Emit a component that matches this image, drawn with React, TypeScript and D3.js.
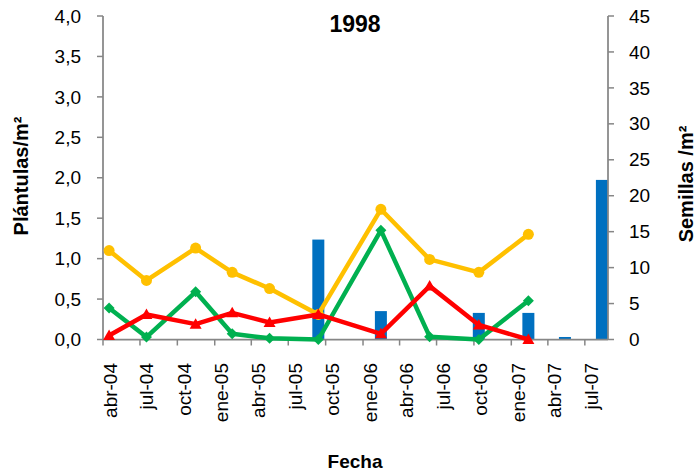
import React from "react";
import * as d3 from "d3";

const sampleDates = [
  "2004-04-16", "2004-07-17", "2004-11-15", "2005-02-13", "2005-05-16", "2005-09-13",
  "2006-02-14", "2006-06-14", "2006-10-13", "2007-02-12", "2007-05-13", "2007-08-12",
];
const yellowSeries = [1.1, 0.73, 1.13, 0.83, 0.63, 0.31, 1.61, 0.99, 0.83, 1.3];
const greenSeries = [0.39, 0.03, 0.59, 0.07, 0.015, 0.0, 1.35, 0.035, 0.0, 0.48];
const redSeries = [0.05, 0.31, 0.19, 0.33, 0.21, 0.31, 0.07, 0.66, 0.18, 0.0];
const seedSeries = [0, 0, 0, 0, 0, 13.9, 3.95, 0, 3.7, 3.7, 0.35, 22.2];
const xTickLabels = [
  "abr-04", "jul-04", "oct-04", "ene-05", "abr-05", "jul-05", "oct-05",
  "ene-06", "abr-06", "jul-06", "oct-06", "ene-07", "abr-07", "jul-07",
];
const leftTicks = [0, 0.5, 1, 1.5, 2, 2.5, 3, 3.5, 4];
const rightTicks = [0, 5, 10, 15, 20, 25, 30, 35, 40, 45];
const monthNames = ["ene", "feb", "mar", "abr", "may", "jun", "jul", "ago", "sep", "oct", "nov", "dic"];
const domainDates = ["2004-04-01", "2007-08-27"];

const FONT = "'Liberation Sans', Arial, sans-serif";
const AXIS = "#868686";

export default function App() {
  const parse = d3.timeParse("%Y-%m-%d");
  const left = 103, right = 608, top = 16, bottom = 339.5;
  const x = d3.scaleTime().domain(domainDates.map((d) => parse(d) as Date)).range([left, right]);
  const yL = d3.scaleLinear().domain([0, 4]).range([bottom, top]);
  const yR = d3.scaleLinear().domain([0, 45]).range([bottom, top]);
  const dates = sampleDates.map((d) => parse(d) as Date);
  const tickDates = xTickLabels.map((l) => {
    const [m, y] = l.split("-");
    return new Date(2000 + +y, monthNames.indexOf(m), 1);
  });
  const fmt = (v: number) => v.toFixed(1).replace(".", ",");

  const lineGen = (vals: number[]) =>
    d3.line<number>().x((_, i) => x(dates[i])).y((v) => yL(v))(vals) || "";

  const series = [
    { vals: yellowSeries, color: "#FFC000", marker: "circle" },
    { vals: greenSeries, color: "#00B050", marker: "diamond" },
    { vals: redSeries, color: "#FF0000", marker: "triangle" },
  ];

  const marker = (type: string, cx: number, cy: number, color: string, key: number) => {
    if (type === "circle") return <circle key={key} cx={cx} cy={cy} r={5.5} fill={color} />;
    if (type === "diamond")
      return <path key={key} d={`M${cx},${cy - 5.5}L${cx + 5.5},${cy}L${cx},${cy + 5.5}L${cx - 5.5},${cy}Z`} fill={color} />;
    return <path key={key} d={`M${cx},${cy - 6}L${cx + 6},${cy + 4.5}L${cx - 6},${cy + 4.5}Z`} fill={color} />;
  };

  return (
    <svg width={696} height={474} style={{ position: "absolute", left: 0, top: 0, background: "#fff" }} fontFamily={FONT}>
      <rect width={696} height={474} fill="#fff" />
      {seedSeries.map((v, i) =>
        v > 0 ? (
          <rect key={i} x={x(dates[i]) - 6} width={12} y={yR(v)} height={bottom - yR(v)} fill="#0070C0" />
        ) : null
      )}
      <line x1={left} x2={left} y1={top} y2={bottom} stroke={AXIS} strokeWidth={1.75} />
      <line x1={right} x2={right} y1={top} y2={bottom} stroke={AXIS} strokeWidth={1.75} />
      <line x1={left} x2={right} y1={bottom} y2={bottom} stroke={AXIS} strokeWidth={1.75} />
      {leftTicks.map((t) => (
        <g key={"l" + t}>
          <line x1={left - 6} x2={left} y1={yL(t)} y2={yL(t)} stroke={AXIS} strokeWidth={1.5} />
          <text x={81} y={yL(t)} dy="0.35em" textAnchor="end" fontSize={19} fill="#000">{fmt(t)}</text>
        </g>
      ))}
      {rightTicks.map((t) => (
        <g key={"r" + t}>
          <line x1={right} x2={right + 6} y1={yR(t)} y2={yR(t)} stroke={AXIS} strokeWidth={1.5} />
          <text x={629} y={yR(t)} dy="0.35em" textAnchor="start" fontSize={19} fill="#000">{t}</text>
        </g>
      ))}
      {tickDates.map((d, i) => (
        <g key={"x" + i}>
          <line x1={x(d)} x2={x(d)} y1={bottom} y2={bottom + 6} stroke={AXIS} strokeWidth={1.5} />
          <text transform={`translate(${x(d) + 13.5},363) rotate(-90)`} textAnchor="end" fontSize={19} fill="#000">
            {xTickLabels[i]}
          </text>
        </g>
      ))}
      {series.map((s, si) => (
        <g key={"s" + si}>
          <path d={lineGen(s.vals)} fill="none" stroke={s.color} strokeWidth={4.5} strokeLinejoin="round" />
          {s.vals.map((v, i) => marker(s.marker, x(dates[i]), yL(v), s.color, i))}
        </g>
      ))}
      <text x={355} y={31.5} textAnchor="middle" fontSize={23} fontWeight="bold" fill="#000">1998</text>
      <text x={355} y={468} textAnchor="middle" fontSize={19} fontWeight="bold" fill="#000">Fecha</text>
      <text transform="translate(28,176) rotate(-90)" textAnchor="middle" fontSize={20} fontWeight="bold" fill="#000">Plántulas/m²</text>
      <text transform="translate(693,184) rotate(-90)" textAnchor="middle" fontSize={20} fontWeight="bold" fill="#000">Semillas /m²</text>
    </svg>
  );
}
